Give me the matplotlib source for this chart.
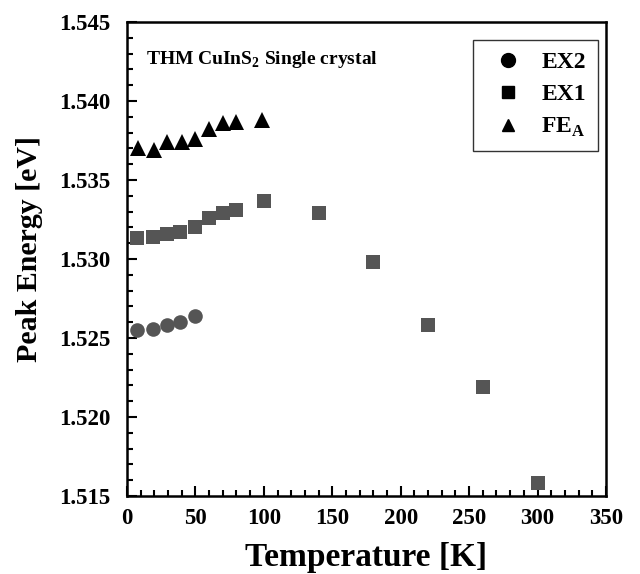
#!/usr/bin/env python
"""Peak energy vs temperature for THM CuInS2 single crystal."""

import matplotlib
matplotlib.use("Agg")
import matplotlib.pyplot as plt  # noqa: E402
from matplotlib.lines import Line2D  # noqa: E402
from matplotlib.ticker import MultipleLocator, FormatStrFormatter  # noqa: E402

plt.rcParams["font.family"] = ["Liberation Serif", "DejaVu Serif"]
plt.rcParams["font.weight"] = "bold"
plt.rcParams["mathtext.fontset"] = "custom"
plt.rcParams["mathtext.rm"] = "Liberation Serif:bold"
plt.rcParams["mathtext.bf"] = "Liberation Serif:bold"

# EX2 (circles)
ex2_T = [7, 19, 29, 39, 50]
ex2_E = [1.5255, 1.5256, 1.5258, 1.5260, 1.5264]

# EX1 (squares)
ex1_T = [7, 19, 29, 39, 50, 60, 70, 80, 100, 140, 180, 220, 260, 300]
ex1_E = [1.5313, 1.5314, 1.5316, 1.5317, 1.5320, 1.5326, 1.5329, 1.5331,
         1.5337, 1.5329, 1.5298, 1.5258, 1.5219, 1.5158]

# FE_A (triangles)
fea_T = [8, 20, 29, 40, 50, 60, 70, 80, 99]
fea_E = [1.5370, 1.5369, 1.5374, 1.5374, 1.5376, 1.5382, 1.5386, 1.5387, 1.5388]

fig = plt.figure(figsize=(6.4, 5.74), dpi=100)
ax = fig.add_axes([0.1984, 0.1359, 0.7484, 0.8258])

grey = "#555555"
ax.plot(ex2_T, ex2_E, "o", color=grey, markersize=10.5, markeredgewidth=0)
ax.plot(ex1_T, ex1_E, "s", color=grey, markersize=10.5, markeredgewidth=0)
ax.plot(fea_T, fea_E, "^", color="black", markersize=11, markeredgewidth=0)

ax.set_xlim(0, 350)
ax.set_ylim(1.515, 1.545)
ax.xaxis.set_major_locator(MultipleLocator(50))
ax.xaxis.set_minor_locator(MultipleLocator(10))
ax.yaxis.set_major_locator(MultipleLocator(0.005))
ax.yaxis.set_minor_locator(MultipleLocator(0.001))
ax.yaxis.set_major_formatter(FormatStrFormatter("%.3f"))

ax.tick_params(which="both", direction="in", top=False, right=False,
               labelsize=16.5, width=1.5)
ax.tick_params(which="major", length=7)
ax.tick_params(which="minor", length=4)
ax.tick_params(axis="x", which="major", pad=9)
ax.tick_params(axis="y", which="major", pad=12)
for sp in ax.spines.values():
    sp.set_linewidth(1.8)

ax.set_xlabel("Temperature [K]", fontsize=24, fontweight="bold", labelpad=9)
ax.set_ylabel("Peak Energy [eV]", fontsize=21.5, fontweight="bold")
ax.yaxis.set_label_coords(-0.175, 0.521)

ax.text(0.04, 0.92, r"THM CuInS$_2$ Single crystal", transform=ax.transAxes,
        fontsize=14, fontweight="bold", va="center", ha="left")

handles = [
    Line2D([], [], ls="", marker="o", color="black", markersize=10),
    Line2D([], [], ls="", marker="s", color="black", markersize=9),
    Line2D([], [], ls="", marker="^", color="black", markersize=9),
]
leg = ax.legend(handles, ["EX2", "EX1", r"FE$_\mathrm{A}$"], loc="upper right",
                bbox_to_anchor=(0.983, 0.962), borderaxespad=0,
                prop={"size": 17, "weight": "bold"},
                frameon=True, fancybox=False, edgecolor="black",
                handletextpad=0.4, borderpad=0.5, labelspacing=0.45)
leg.get_frame().set_linewidth(1.0)

fig.savefig("out.png", dpi=100)
